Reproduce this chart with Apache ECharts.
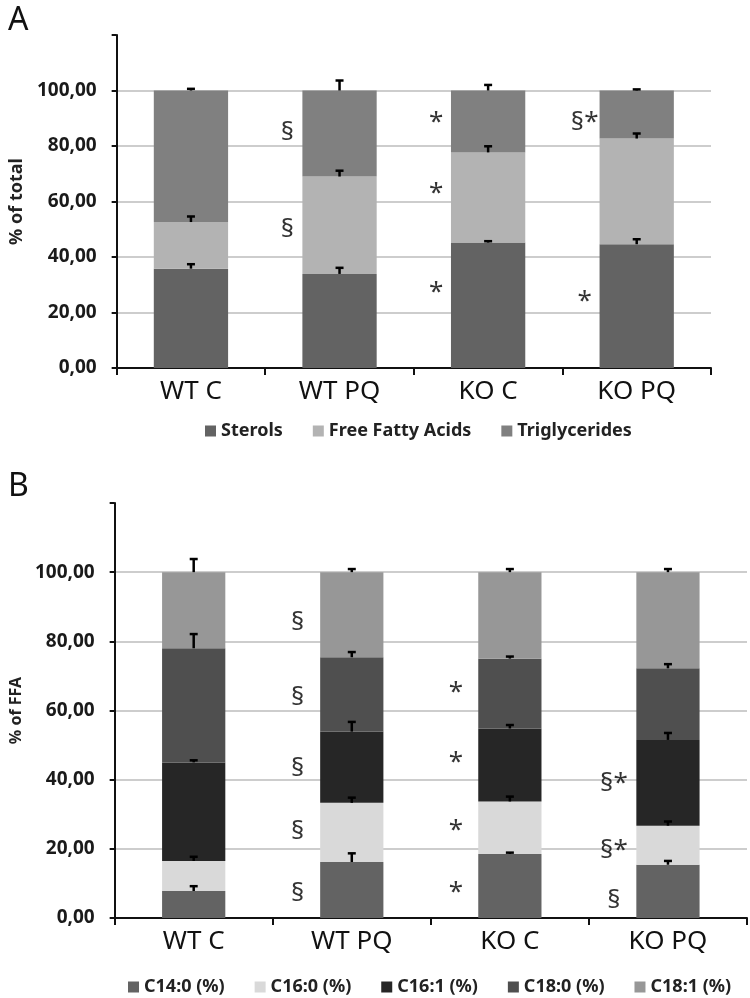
<!DOCTYPE html>
<html><head><meta charset="utf-8">
<script src="https://cdn.jsdelivr.net/npm/echarts@6/dist/echarts.min.js"></script>
<style>html,body{margin:0;padding:0;background:#fff}#c{width:750px;height:998px}</style>
</head><body><div id="c"></div>
<script>
// ---------- data ----------
const categories = ['WT C', 'WT PQ', 'KO C', 'KO PQ'];
const yTicks = [0, 20, 40, 60, 80, 100, 120];

// Panel A (% of total)
const seriesNamesA = ['Sterols', 'Free Fatty Acids', 'Triglycerides'];
const sterols = [35.8, 33.9, 45.2, 44.6];
const freeFattyAcids = [16.8, 35.1, 32.5, 38.1];
const triglycerides = [47.4, 31.0, 22.3, 17.3];
const errSterols = [1.6, 2.2, 0.5, 1.8];
const errFFA = [2.0, 2.1, 2.2, 1.8];
const errTG = [0.6, 3.6, 2.0, 0.4];
const annotA = [[1, 85, '§'], [1, 50, '§'], [2, 88.5, '*'], [2, 63, '*'], [2, 27, '*'], [3, 88.5, '§*'], [3, 24, '*']];

// Panel B (% of FFA)
const seriesNamesB = ['C14:0 (%)', 'C16:0 (%)', 'C16:1 (%)', 'C18:0 (%)', 'C18:1 (%)'];
const c140 = [7.8, 16.2, 18.5, 15.4];
const c160 = [8.7, 17.1, 15.2, 11.3];
const c161 = [28.5, 20.6, 21.1, 24.8];
const c180 = [33.0, 21.5, 20.2, 20.7];
const c181 = [22.0, 24.6, 25.0, 27.8];
const errC140 = [1.4, 2.5, 0.4, 1.1];
const errC160 = [1.2, 1.5, 1.4, 1.2];
const errC161 = [0.6, 2.8, 1.0, 2.0];
const errC180 = [4.1, 1.5, 0.6, 1.2];
const errC181 = [3.8, 0.9, 0.9, 0.9];
const annotB = [[1, 85.4, '§'], [1, 63.6, '§'], [1, 43.3, '§'], [1, 25, '§'], [1, 7.1, '§'],
                [2, 65.1, '*'], [2, 44.8, '*'], [2, 25.4, '*'], [2, 7.3, '*'],
                [3, 39, '§*'], [3, 19.6, '§*'], [3, 5.1, '§']];

// ---------- styles ----------
const colorsA = ['#636363', '#b3b3b3', '#808080'];
const colorsB = ['#636363', '#d9d9d9', '#262626', '#4f4f4f', '#979797'];
const FONT = '"Noto Sans", "DejaVu Sans", sans-serif';

function fmt(v) { return v > 100 ? '' : v.toFixed(2).replace('.', ','); }

function yAxisCfg(gi, name, nameGap, fs) {
  return {
    gridIndex: gi, type: 'value', min: yTicks[0], max: yTicks[yTicks.length - 1], interval: 20,
    name: name, nameLocation: 'middle', nameGap: nameGap,
    nameTextStyle: { fontFamily: FONT, fontWeight: 'bold', fontSize: fs, color: '#222' },
    axisLine: { show: true, lineStyle: { color: '#111', width: 2 } },
    axisTick: { show: true, length: 5, lineStyle: { color: '#111', width: 2 } },
    axisLabel: { formatter: fmt, fontFamily: FONT, fontWeight: 'bold', fontSize: 19, color: '#1a1a1a', margin: 20 },
    splitLine: { show: true, showMinLine: false, showMaxLine: false, lineStyle: { color: '#bdbdbd', width: 1.6 } }
  };
}
function xAxisCfg(gi, margin) {
  return {
    gridIndex: gi, type: 'category', data: categories,
    axisLine: { show: true, lineStyle: { color: '#111', width: 2 } },
    axisTick: { show: true, length: 7, lineStyle: { color: '#111', width: 2 } },
    axisLabel: { fontFamily: FONT, fontSize: 26, color: '#111', margin: margin }
  };
}

function barSeries(names, arrays, colors, gi, stack, width) {
  return arrays.map((arr, i) => ({
    name: names[i], type: 'bar', stack: stack, xAxisIndex: gi, yAxisIndex: gi,
    data: arr, barWidth: width, itemStyle: { color: colors[i] }, z: 2
  }));
}

function errorSeries(arrays, errs, gi) {
  const data = [];
  for (let c = 0; c < categories.length; c++) {
    let cum = 0;
    for (let s = 0; s < arrays.length; s++) {
      cum += arrays[s][c];
      data.push([c, cum, errs[s][c]]);
    }
  }
  return {
    type: 'custom', xAxisIndex: gi, yAxisIndex: gi, z: 5, silent: true,
    data: data,
    renderItem: function (params, api) {
      const idx = api.value(0), top = api.value(1), e = api.value(2);
      const p0 = api.coord([idx, top]);
      const p1 = api.coord([idx, top + e]);
      const st = { stroke: '#000', lineWidth: 2.5 };
      return {
        type: 'group', children: [
          { type: 'line', shape: { x1: p0[0], y1: p0[1], x2: p1[0], y2: p1[1] }, style: st },
          { type: 'line', shape: { x1: p1[0] - 4, y1: p1[1], x2: p1[0] + 4, y2: p1[1] }, style: st }
        ]
      };
    }
  };
}

function annotSeries(ann, gi, dx) {
  return {
    type: 'scatter', xAxisIndex: gi, yAxisIndex: gi, z: 6, silent: true,
    symbolSize: 1, itemStyle: { color: 'rgba(0,0,0,0)' },
    data: ann.map(a => ({ value: [a[0], a[1]], txt: a[2] })),
    label: {
      show: true, position: 'inside', offset: [dx, 0],
      formatter: p => p.data.txt,
      fontFamily: FONT, fontSize: 26, color: '#000'
    }
  };
}

const chart = echarts.init(document.getElementById('c'), null, { renderer: 'canvas' });
chart.setOption({
  animation: false,
  backgroundColor: '#fff',
  title: [
    { text: 'A', left: 3, top: 0, textStyle: { fontFamily: FONT, fontWeight: 'normal', fontSize: 32, color: '#111' } },
    { text: 'B', left: 3, top: 466, textStyle: { fontFamily: FONT, fontWeight: 'normal', fontSize: 32, color: '#111' } }
  ],
  legend: [
    { data: seriesNamesA, left: 200, top: 417, itemWidth: 11, itemHeight: 11, itemGap: 30, icon: 'rect',
      textStyle: { fontFamily: FONT, fontWeight: 'bold', fontSize: 18, color: '#222' } },
    { data: seriesNamesB, left: 123, top: 973, itemWidth: 11, itemHeight: 11, itemGap: 30, icon: 'rect',
      textStyle: { fontFamily: FONT, fontWeight: 'bold', fontSize: 18, color: '#222' } }
  ],
  grid: [
    { left: 114, right: 39, top: 35, height: 333 },
    { left: 109, right: 3, top: 503, height: 415 }
  ],
  xAxis: [xAxisCfg(0, 11), xAxisCfg(1, 11)],
  yAxis: [yAxisCfg(0, '% of total', 90, 18), yAxisCfg(1, '% of FFA', 85, 16)],
  series: [
    ...barSeries(seriesNamesA, [sterols, freeFattyAcids, triglycerides], colorsA, 0, 'A', '50%'),
    errorSeries([sterols, freeFattyAcids, triglycerides], [errSterols, errFFA, errTG], 0),
    annotSeries(annotA, 0, -52),
    ...barSeries(seriesNamesB, [c140, c160, c161, c180, c181], colorsB, 1, 'B', '40%'),
    errorSeries([c140, c160, c161, c180, c181], [errC140, errC160, errC161, errC180, errC181], 1),
    annotSeries(annotB, 1, -54)
  ]
});
</script>
</body></html>
